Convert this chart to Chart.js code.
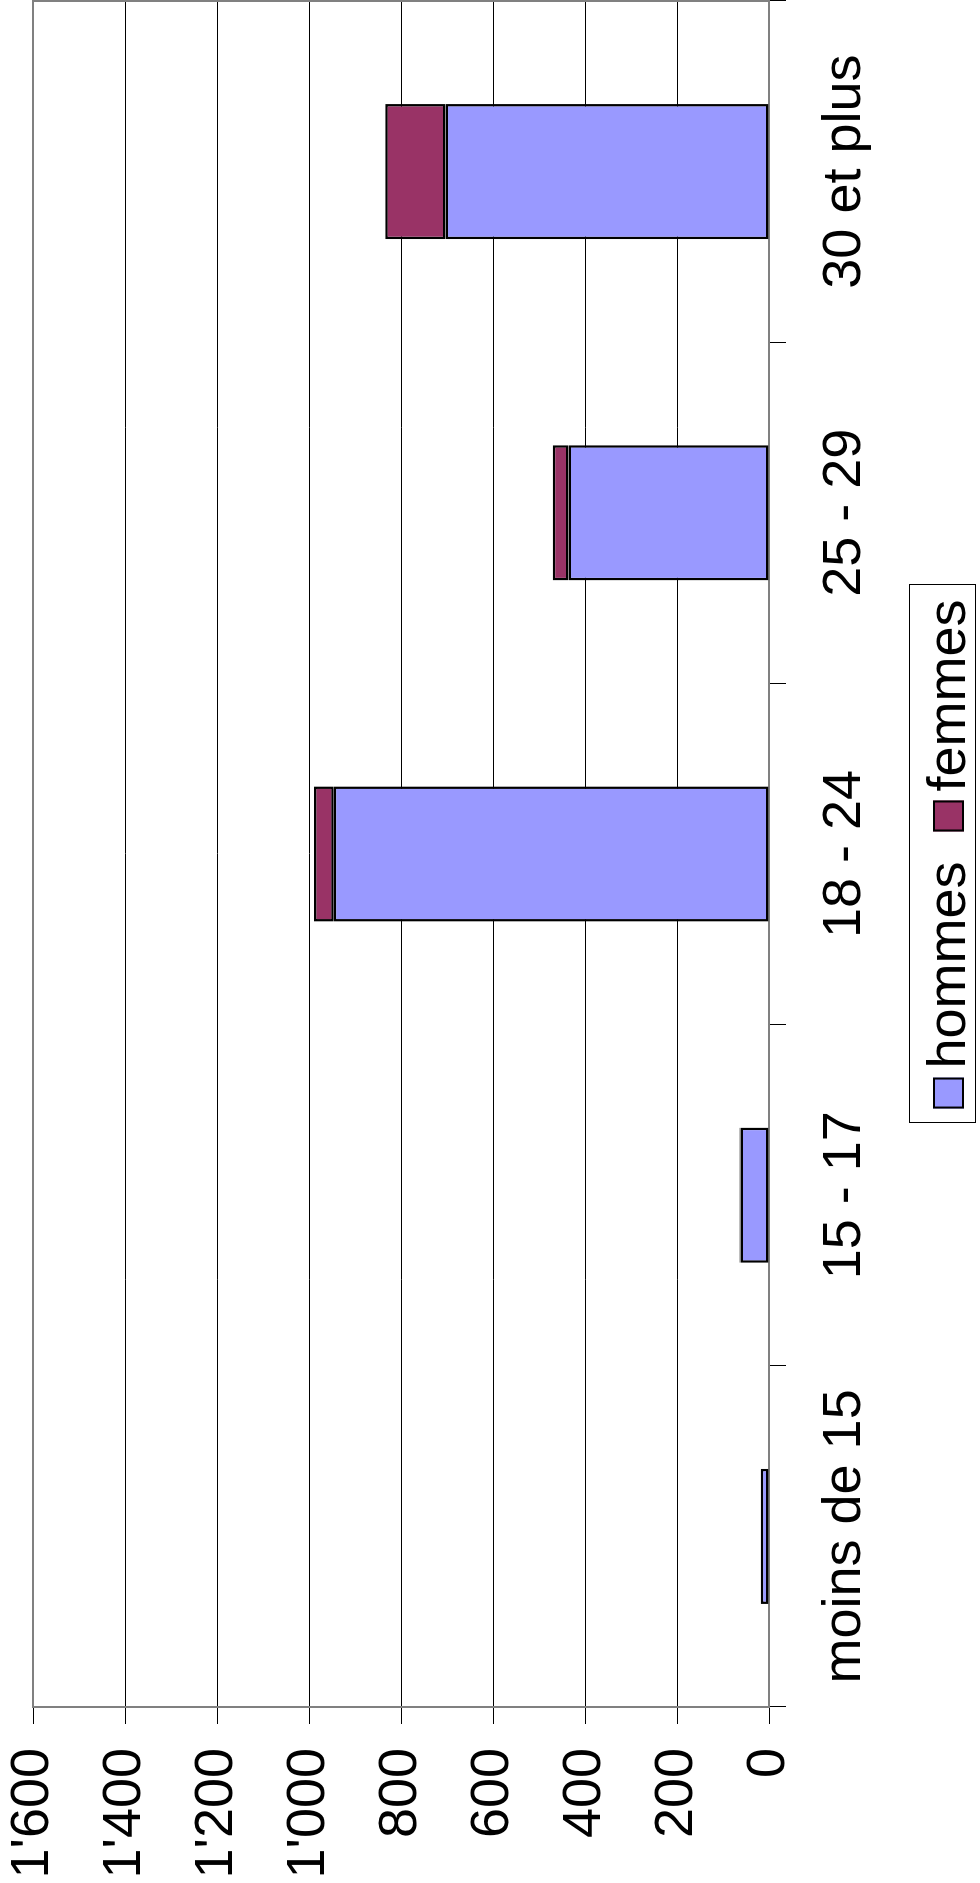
<!DOCTYPE html>
<html>
<head>
<meta charset="utf-8">
<script src="https://cdn.jsdelivr.net/npm/chart.js@4"></script>
<style>
    html, body { margin: 0; padding: 0; background: #fff; overflow: hidden; }
    /* le graphique est dessiné à plat puis tourné d'un quart de tour */
    #cadre {
        position: absolute; left: 0; top: 0;
        width: 1883px; height: 980px;
        transform-origin: 0 0;
        transform: translate(0, 1883px) rotate(-90deg);
    }
</style>
</head>
<body>
<div id="cadre"><canvas id="graphique" width="1883" height="980"></canvas></div>
<script>
const categories = ['moins de 15', '15 - 17', '18 - 24', '25 - 29', '30 et plus'];
const hommes = [18, 62, 946, 436, 703];
const femmes = [0, 2, 43, 34, 131];
const ticksValeurs = ["0", "200", "400", "600", "800", "1'000", "1'200", "1'400", "1'600"];

const police = "'Liberation Sans', Arial, sans-serif";
const taille = 54;
Chart.defaults.font.family = police;
Chart.defaults.color = '#000';

// bordure grise autour de la zone de tracé
const bordureZone = {
    id: 'bordureZone',
    beforeDatasetsDraw(chart) {
        const a = chart.chartArea;
        const ctx = chart.ctx;
        ctx.save();
        ctx.strokeStyle = '#808080';
        ctx.lineWidth = 2;
        ctx.strokeRect(a.left, a.top, a.right - a.left, a.bottom - a.top);
        ctx.restore();
    }
};

// légende encadrée, façon Excel
const legendeCadre = {
    id: 'legendeCadre',
    afterDraw(chart) {
        const ctx = chart.ctx;
        const a = chart.chartArea;
        ctx.save();
        ctx.font = taille + 'px ' + police;
        const items = chart.data.datasets.map(ds => ({
            texte: ds.label,
            couleur: ds.backgroundColor,
            largeur: ctx.measureText(ds.label).width
        }));
        const carre = 31, ecart = 9, entre = 30;
        let total = 0;
        items.forEach((it, i) => { total += carre + ecart + it.largeur + (i ? entre : 0); });
        let x = (a.left + a.right) / 2 - total / 2;
        const haut = 909, bas = 975;
        ctx.strokeStyle = '#000';
        ctx.lineWidth = 1;
        ctx.strokeRect(Math.round(x - 14) + 0.5, haut + 0.5, Math.round(total + 29), bas - haut);
        items.forEach(it => {
            ctx.fillStyle = it.couleur;
            ctx.fillRect(x, 933, carre, carre);
            ctx.strokeStyle = '#000';
            ctx.lineWidth = 2;
            ctx.strokeRect(x + 1, 934, carre - 2, carre - 2);
            ctx.fillStyle = '#000';
            ctx.textBaseline = 'alphabetic';
            ctx.fillText(it.texte, x + carre + ecart, 965);
            x += carre + ecart + it.largeur + entre;
        });
        ctx.restore();
    }
};

const ctx = document.getElementById('graphique').getContext('2d');
new Chart(ctx, {
    type: 'bar',
    data: {
        labels: categories,
        datasets: [
            {
                label: 'hommes',
                data: hommes,
                backgroundColor: '#9999FF',
                borderColor: '#000',
                borderWidth: 2.5,
                borderSkipped: false,
                barPercentage: 0.396,
                categoryPercentage: 1
            },
            {
                label: 'femmes',
                data: femmes,
                backgroundColor: '#993366',
                borderColor: '#000',
                borderWidth: 2.5,
                borderSkipped: false,
                barPercentage: 0.396,
                categoryPercentage: 1
            }
        ]
    },
    options: {
        responsive: false,
        animation: false,
        devicePixelRatio: 1,
        layout: { padding: { top: 33, right: 1, bottom: 0, left: 0 } },
        plugins: {
            legend: { display: false },
            tooltip: { enabled: false }
        },
        scales: {
            x: {
                stacked: true,
                afterFit: s => {
                    s.height = 211;
                    s.paddingLeft = 0;
                    s.paddingRight = 0;
                },
                grid: {
                    offset: true,
                    drawOnChartArea: false,
                    tickLength: 17,
                    tickColor: '#000'
                },
                border: { color: '#808080', width: 2 },
                ticks: {
                    font: { size: taille },
                    padding: 27,
                    maxRotation: 0,
                    autoSkip: false
                }
            },
            y: {
                stacked: true,
                min: 0,
                max: 1600,
                afterFit: s => {
                    s.width = 176;
                    s.paddingTop = 0;
                    s.paddingBottom = 0;
                },
                grid: {
                    color: '#000',
                    lineWidth: 1,
                    tickLength: 17,
                    tickColor: '#000'
                },
                border: { color: '#808080', width: 2 },
                ticks: {
                    stepSize: 200,
                    font: { size: taille },
                    padding: 24,
                    callback: (v, i) => ticksValeurs[i]
                }
            }
        }
    },
    plugins: [bordureZone, legendeCadre]
});
</script>
</body>
</html>
